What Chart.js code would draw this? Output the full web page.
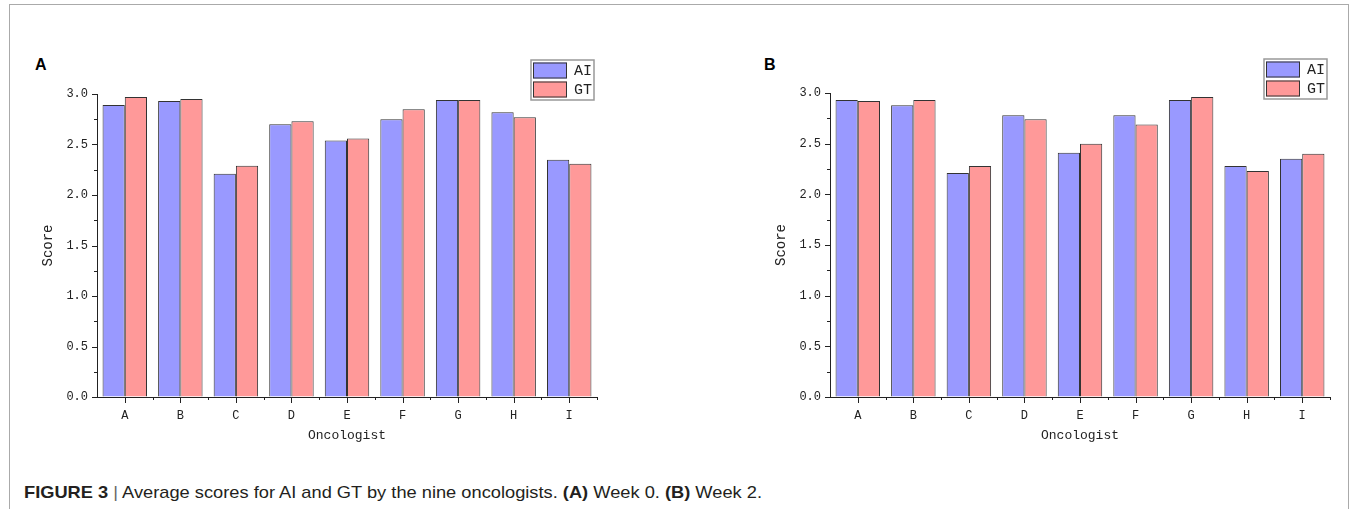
<!DOCTYPE html>
<html><head><meta charset="utf-8">
<script src="https://cdn.jsdelivr.net/npm/chart.js@4.4.1/dist/chart.umd.min.js"></script>
<style>
body{margin:0;background:#fff;width:1357px;height:509px;overflow:hidden;position:relative;font-family:"Liberation Sans",Arial,sans-serif}
#frame{position:absolute;left:9px;top:4px;width:1340px;height:600px;border:1px solid #aaa;box-sizing:border-box}
.panel{position:absolute;top:50px;width:590px;height:400px}
.lbl{position:absolute;font:bold 16px "Liberation Sans",Arial,sans-serif;color:#000;line-height:16px}
#cap{position:absolute;left:24px;top:484px;font-size:17px;color:#231f20;white-space:nowrap;transform-origin:left top;line-height:18px}
#cap b{font-weight:bold}
</style></head>
<body>
<div id="frame"></div>
<div class="lbl" style="left:35px;top:57px">A</div>
<div class="lbl" style="left:764px;top:57px">B</div>
<canvas id="cA" class="panel" width="590" height="400" style="left:30px"></canvas>
<canvas id="cB" class="panel" width="590" height="400" style="left:763px"></canvas>
<div id="cap"><b>FIGURE 3</b> <span style="color:#666">|</span> Average scores for AI and GT by the nine oncologists. <b>(A)</b> Week 0. <b>(B)</b> Week 2.</div>
<script>
const categories = ['A','B','C','D','E','F','G','H','I'];
const seriesNames = ['AI','GT'];
const week0AI = [2.89,2.93,2.21,2.70,2.54,2.75,2.94,2.82,2.35];
const week0GT = [2.97,2.95,2.29,2.73,2.56,2.85,2.94,2.77,2.31];
const week2AI = [2.93,2.88,2.21,2.78,2.41,2.78,2.93,2.28,2.35];
const week2GT = [2.92,2.93,2.28,2.74,2.50,2.69,2.96,2.23,2.40];
const yMin = 0, yMax = 3, yStep = 0.5;

const fillColors = ['#9999ff','#ff9999'];
const MONO = '"Liberation Mono","DejaVu Sans Mono",monospace';
const TXT = '#222';

const tickPlugin = {
  id:'ticksAndLegend',
  afterDraw(chart){
    const ctx = chart.ctx, ca = chart.chartArea;
    const xs = chart.scales.x, ys = chart.scales.y;
    ctx.save();
    ctx.strokeStyle = '#222'; ctx.lineWidth = 1;
    ctx.beginPath();
    for (let v = yMin; v <= yMax + 1e-9; v += yStep/2) {
      const y = Math.round(ys.getPixelForValue(v)) + 0.5;
      const major = Math.abs(v/yStep - Math.round(v/yStep)) < 1e-6;
      ctx.moveTo(ca.left, y); ctx.lineTo(ca.left - (major ? 5 : 3), y);
    }
    const n = categories.length;
    for (let i = 0; i < n; i++) {
      const x = Math.round(xs.getPixelForValue(i)) + 0.5;
      ctx.moveTo(x, ca.bottom); ctx.lineTo(x, ca.bottom + 6);
    }
    for (let i = 0; i < n; i++) {
      const x = Math.round(xs.getPixelForValue(i + 0.5)) + 0.5;
      ctx.moveTo(x, ca.bottom); ctx.lineTo(x, ca.bottom + 3);
    }
    ctx.stroke();
    const bw = 63, bh = 40;
    const bx = ca.right - 3 - bw, by = ca.top - 34;
    ctx.fillStyle = '#fff';
    ctx.fillRect(bx, by, bw, bh);
    ctx.strokeStyle = '#999'; ctx.lineWidth = 1.5;
    ctx.strokeRect(bx, by, bw, bh);
    chart.data.datasets.forEach((ds, k) => {
      const sy = by + 2.5 + k * 19;
      ctx.fillStyle = ds.backgroundColor;
      ctx.fillRect(bx + 2, sy, 34, 16);
      ctx.strokeStyle = '#333'; ctx.lineWidth = 1;
      ctx.strokeRect(bx + 2.5, sy + 0.5, 33, 15);
      ctx.fillStyle = TXT;
      ctx.font = '15px ' + MONO;
      ctx.textBaseline = 'middle';
      ctx.fillText(ds.label, bx + 43, sy + 8.5);
    });
    ctx.restore();
  }
};

function makeChart(id, ai, gt, topPad){
  return new Chart(document.getElementById(id), {
    type:'bar',
    data:{
      labels: categories,
      datasets:[
        {label: seriesNames[0], data: ai, backgroundColor: fillColors[0], borderColor:'#333', borderWidth:1},
        {label: seriesNames[1], data: gt, backgroundColor: fillColors[1], borderColor:'#333', borderWidth:1}
      ]
    },
    options:{
      responsive:false, animation:false, devicePixelRatio:1,
      layout:{padding:{top:topPad, right:23, left:0, bottom:0}},
      datasets:{bar:{barPercentage:1, categoryPercentage:0.8}},
      plugins:{legend:{display:false}, tooltip:{enabled:false}},
      scales:{
        x:{
          grid:{drawOnChartArea:false, drawTicks:false},
          border:{display:true, color:'#222', width:1},
          ticks:{font:{family:MONO, size:12}, color:TXT, padding:12, maxRotation:0},
          title:{display:true, text:'Oncologist', font:{family:MONO, size:13}, color:TXT, padding:{top:0, bottom:7}},
          afterFit(s){ s.height = 53; }
        },
        y:{
          min:yMin, max:yMax,
          grid:{drawOnChartArea:false, drawTicks:false},
          border:{display:true, color:'#222', width:1},
          ticks:{stepSize:yStep, font:{family:MONO, size:12}, color:TXT, padding:9, callback:v=>Number(v).toFixed(1)},
          title:{display:true, text:'Score', font:{family:MONO, size:14}, color:TXT, padding:{top:10, bottom:0}},
          afterFit(s){ s.width = 67; }
        }
      }
    },
    plugins:[tickPlugin]
  });
}
makeChart('cA', week0AI, week0GT, 44);
makeChart('cB', week2AI, week2GT, 43);

const cap = document.getElementById('cap');
const w = cap.getBoundingClientRect().width;
cap.style.transform = 'scaleX(' + (738 / w) + ')';
</script>
</body></html>
